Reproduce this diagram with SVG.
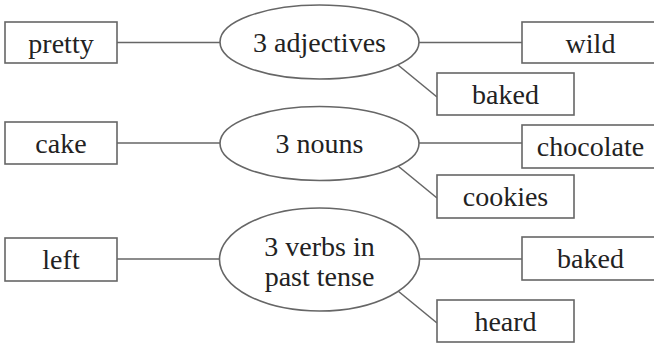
<svg xmlns="http://www.w3.org/2000/svg" width="654" height="343" viewBox="0 0 654 343">
<style>
.b{fill:#fff;stroke:#666;stroke-width:1.6}
.c{stroke:#666;stroke-width:1.6;fill:none}
.t{font-size:28px;fill:#222;text-anchor:middle}
</style>
<rect width="654" height="343" fill="#fff"/>
<g id="connectors">
<line class="c" x1="117" y1="42.5" x2="220" y2="42.5"/>
<line class="c" x1="419" y1="42.5" x2="522" y2="42.5"/>
<line class="c" x1="398" y1="65" x2="437" y2="97"/>
<line class="c" x1="117" y1="143" x2="220" y2="143"/>
<line class="c" x1="419" y1="143" x2="522" y2="143"/>
<line class="c" x1="398" y1="166" x2="437" y2="198"/>
<line class="c" x1="117" y1="259" x2="220" y2="259"/>
<line class="c" x1="419" y1="259" x2="522" y2="259"/>
<line class="c" x1="398" y1="291" x2="437" y2="323"/>
</g>
<g font-family="Liberation Serif, Tinos, DejaVu Serif, Times New Roman, serif">
<g id="adjectives"><ellipse class="b" cx="319.5" cy="42" rx="99.5" ry="37"/><text class="t" x="319.5" y="52">3 adjectives</text></g>
<g id="pretty"><rect class="b" x="5" y="22" width="112" height="41"/><text class="t" x="61" y="53">pretty</text></g>
<g id="wild"><rect class="b" x="522" y="22" width="137" height="41"/><text class="t" x="590.5" y="53">wild</text></g>
<g id="baked1"><rect class="b" x="437" y="73" width="137" height="42"/><text class="t" x="505.5" y="104">baked</text></g>
<g id="nouns"><ellipse class="b" cx="319.5" cy="143.5" rx="99.5" ry="37"/><text class="t" x="319.5" y="153">3 nouns</text></g>
<g id="cake"><rect class="b" x="5" y="122" width="112" height="42"/><text class="t" x="61" y="153">cake</text></g>
<g id="chocolate"><rect class="b" x="522" y="125" width="137" height="43"/><text class="t" x="590.5" y="156">chocolate</text></g>
<g id="cookies"><rect class="b" x="437" y="175" width="137" height="43"/><text class="t" x="505.5" y="206">cookies</text></g>
<g id="verbs"><ellipse class="b" cx="319.5" cy="259.5" rx="100" ry="51.5"/><text class="t" x="319.5" y="256">3 verbs in</text><text class="t" x="319.5" y="286">past tense</text></g>
<g id="left"><rect class="b" x="5" y="238" width="112" height="43"/><text class="t" x="61" y="269">left</text></g>
<g id="baked2"><rect class="b" x="522" y="237" width="137" height="43"/><text class="t" x="590.5" y="268">baked</text></g>
<g id="heard"><rect class="b" x="437" y="300" width="137" height="42"/><text class="t" x="505.5" y="331">heard</text></g>
</g>
</svg>
